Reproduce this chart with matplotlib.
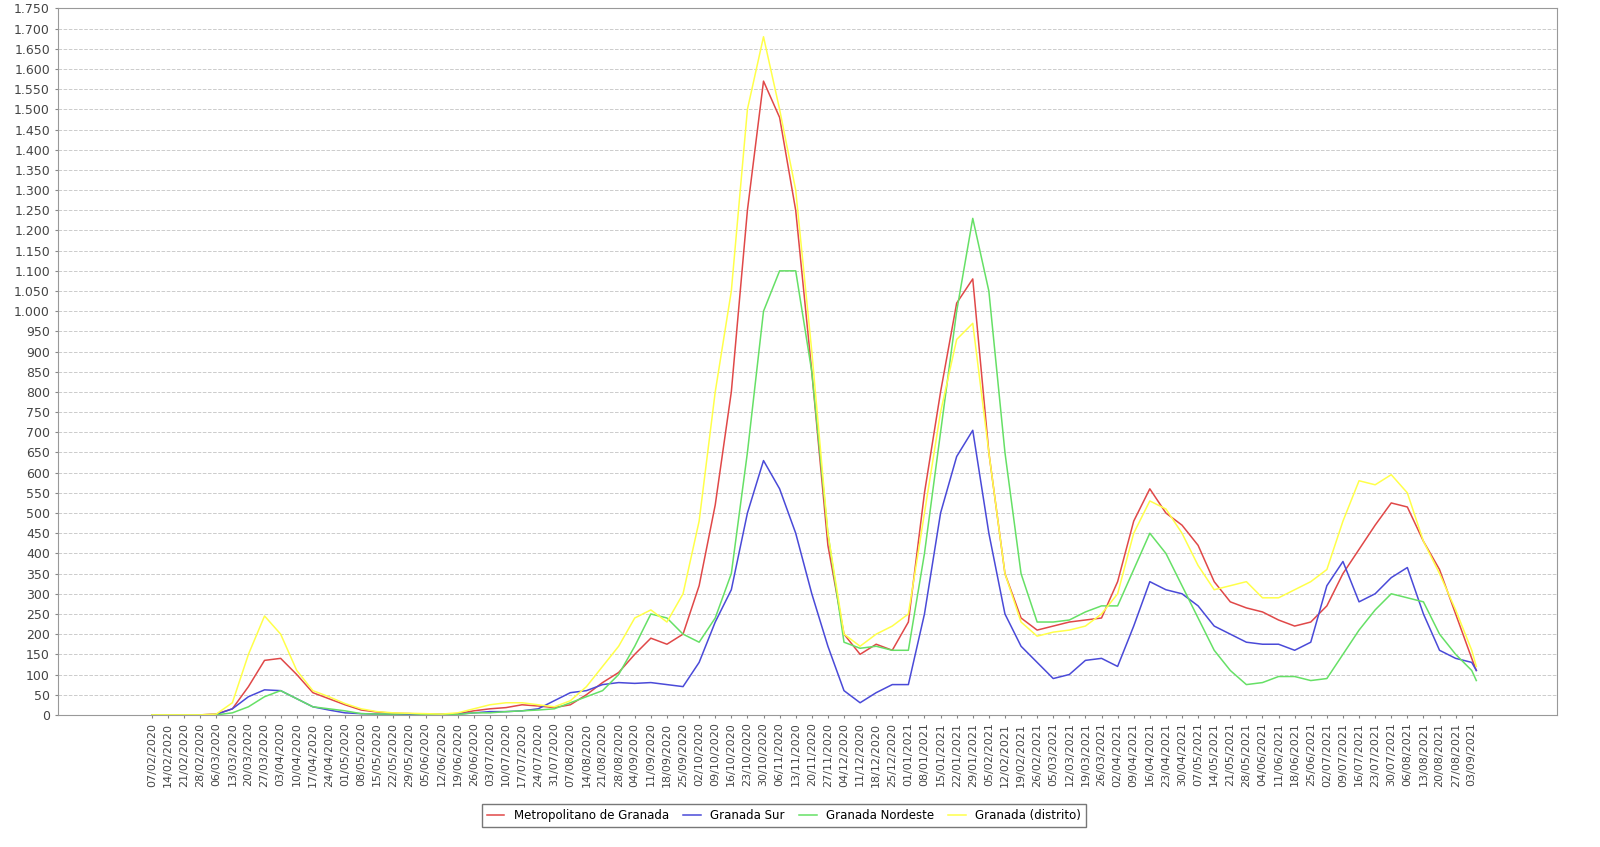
import matplotlib
matplotlib.use("Agg")
import matplotlib.pyplot as plt
import pandas as pd

# weekly readings, 07/02/2020 .. 03/09/2021, plus final point
dates = list(pd.date_range("2020-02-07", "2021-09-03", freq="7D")) + [pd.Timestamp("2021-09-05")]

metro = [0, 0, 0, 0, 2, 15, 70, 135, 140, 100, 55, 40, 25, 12, 7, 4, 3, 2, 1, 3,
         10, 15, 18, 25, 22, 18, 25, 50, 80, 105, 150, 190, 175, 200, 320, 520, 800, 1250, 1570, 1480,
         1250, 850, 420, 200, 150, 175, 160, 230, 550, 800, 1020, 1080, 650, 350, 240, 210, 220, 230, 235, 240,
         330, 480, 560, 500, 470, 420, 330, 280, 265, 255, 235, 220, 230, 270, 350, 410, 470, 525, 515, 430,
         360, 250, 140, 110]
sur = [0, 0, 0, 0, 1, 15, 45, 62, 60, 40, 20, 12, 5, 3, 2, 1, 1, 1, 1, 2,
       5, 8, 8, 10, 15, 35, 55, 60, 75, 80, 78, 80, 75, 70, 130, 230, 310, 500, 630, 560,
       450, 300, 170, 60, 30, 55, 75, 75, 250, 500, 640, 705, 450, 250, 170, 130, 90, 100, 135, 140,
       120, 220, 330, 310, 300, 270, 220, 200, 180, 175, 175, 160, 180, 320, 380, 280, 300, 340, 365, 250,
       160, 140, 130, 110]
nordeste = [0, 0, 0, 0, 0, 5, 20, 45, 60, 40, 20, 15, 10, 3, 2, 2, 3, 1, 1, 1,
            5, 5, 8, 10, 12, 15, 30, 45, 60, 100, 170, 250, 240, 200, 180, 240, 350, 650, 1000, 1100,
            1100, 850, 450, 180, 165, 170, 160, 160, 400, 700, 1000, 1230, 1050, 650, 350, 230, 230, 235, 255, 270,
            270, 360, 450, 400, 320, 240, 160, 110, 75, 80, 95, 95, 85, 90, 150, 210, 260, 300, 290, 280,
            200, 150, 110, 85]
distrito = [0, 0, 0, 0, 2, 30, 150, 245, 200, 110, 60, 45, 28, 15, 8, 5, 4, 3, 2, 5,
            15, 25, 30, 30, 25, 20, 35, 70, 120, 170, 240, 260, 230, 300, 480, 800, 1050, 1500, 1680, 1500,
            1300, 900, 450, 200, 170, 200, 220, 250, 500, 750, 930, 970, 650, 350, 230, 195, 205, 210, 220, 250,
            300, 450, 530, 510, 450, 370, 310, 320, 330, 290, 290, 310, 330, 360, 480, 580, 570, 595, 550, 430,
            350, 260, 160, 120]

names = ["Metropolitano de Granada", "Granada Sur", "Granada Nordeste", "Granada (distrito)"]
colors = ["#e04848", "#4a4ad8", "#66e066", "#ffff4a"]

fig, ax = plt.subplots(figsize=(16, 8.47), dpi=100)
fig.subplots_adjust(left=0.036, right=0.973, top=0.99, bottom=0.156)

for vals, name, c in zip([metro, sur, nordeste, distrito], names, colors):
    ax.plot(dates, vals, color=c, lw=1.1, label=name)

ax.set_ylim(0, 1750)
ax.set_yticks(range(0, 1751, 50))
ax.set_yticklabels([f"{v:,}".replace(",", ".") for v in range(0, 1751, 50)], fontsize=9, color="#444444")
ax.yaxis.grid(True, color="#cccccc", ls="--", lw=0.7)
ax.set_axisbelow(True)

ticks = dates[:-1]
ax.set_xticks(ticks)
ax.set_xticklabels([d.strftime("%d/%m/%Y") for d in ticks], rotation=90, fontsize=8, color="#444444")
ax.set_xlim(pd.Timestamp("2019-12-28"), pd.Timestamp("2021-10-10"))
ax.tick_params(length=2, color="#888888")
for s in ax.spines.values():
    s.set_color("#999999")

leg = fig.legend(loc="center", bbox_to_anchor=(0.49, 0.037), ncol=4, fontsize=8.5,
                 frameon=True, fancybox=False, edgecolor="#555555", handlelength=1.5,
                 columnspacing=1.2, borderpad=0.4)

fig.savefig("out.png")
